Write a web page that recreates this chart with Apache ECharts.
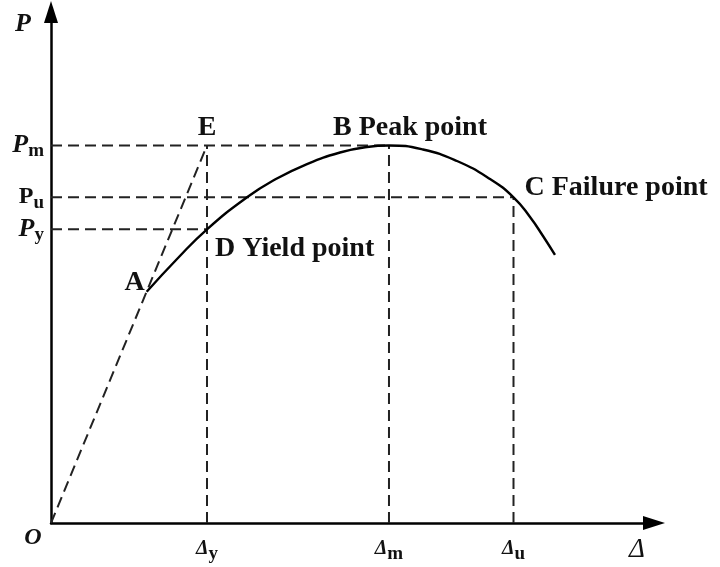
<!DOCTYPE html>
<html>
<head>
<meta charset="utf-8">
<script src="https://cdn.jsdelivr.net/npm/echarts@6/dist/echarts.min.js"></script>
<style>html,body{margin:0;padding:0;background:#fff;}#c{width:720px;height:567px;}</style>
</head>
<body>
<div id="c"></div>
<script>
// Load–displacement skeleton curve (arbitrary units, axes 0..100)
const curveX = [15.87, 20.90, 25.87, 32.50, 37.15, 42.45, 47.93, 52.40, 56.05, 61.69, 67.33, 72.80, 76.70, 79.44, 81.59, 83.58];
const curveY = [45.26, 51.66, 57.48, 63.74, 67.22, 70.25, 72.50, 73.58, 73.87, 73.09, 70.84, 67.32, 63.74, 59.88, 56.16, 52.45];

// characteristic displacements (x) and loads (y)
const xTickValues = [25.87, 56.05, 76.70];      // Δy, Δm, Δu
const xTickSubs   = ['y', 'm', 'u'];
const yTickValues = [73.87, 63.74, 57.48];      // Pm, Pu, Py
const yTickSubs   = ['m', 'u', 'y'];

// labelled points
const pointNames = ['A', 'E', 'B Peak point', 'C Failure point', 'D Yield point', 'O', 'Δ'];
const pointX = [15.87, 25.87, 56.05, 76.70, 25.87, 0, 100];
const pointY = [45.26, 73.87, 73.87, 63.74, 57.48, 0, 0];

const SERIF = "'Liberation Serif','Times New Roman',serif";
const dashStyle = { color: '#222', width: 2, type: [11, 6] };

function dashed(a, b) {
  return { type: 'line', data: [a, b], symbol: 'none', silent: true,
           lineStyle: dashStyle, z: 2, animation: false };
}

const [Dy, Dm, Du] = xTickValues;
const [Pm, Pu, Py] = yTickValues;

const labelLayouts = [
  { offset: [-12, -9], align: 'center' },   // A
  { offset: [0, -18], align: 'center' },    // E
  { offset: [-56, -18], align: 'left' },    // B
  { offset: [11, -10], align: 'left' },     // C
  { offset: [8, 19], align: 'left' },       // D
  { offset: [-18, 15], align: 'center', fontStyle: 'italic', fontSize: 24 },                   // O
  { offset: [-17, 27], align: 'center', fontStyle: 'italic', fontWeight: 'normal', fontSize: 27 } // Δ axis title
];

const labelData = pointNames.map((n, i) => ({
  value: [pointX[i], pointY[i]],
  label: {
    show: true, formatter: n, position: 'inside',
    offset: labelLayouts[i].offset, align: labelLayouts[i].align, verticalAlign: 'middle',
    fontFamily: SERIF, fontWeight: labelLayouts[i].fontWeight || 'bold', fontSize: labelLayouts[i].fontSize || 28,
    fontStyle: labelLayouts[i].fontStyle || 'normal', color: '#111', opacity: 1, textBorderWidth: 0
  }
}));

const chart = echarts.init(document.getElementById('c'), null, { renderer: 'canvas' });
chart.setOption({
  animation: false,
  backgroundColor: '#fff',
  grid: { left: 51, right: 66, top: 12, bottom: 44, containLabel: false, outerBoundsMode: 'none' },
  xAxis: {
    type: 'value', min: 0, max: 100,
    axisLine: { show: true, onZero: false, symbol: ['none', 'triangle'], symbolSize: [14, 22],
                lineStyle: { color: '#000', width: 2.5 } },
    axisTick: { show: false },
    splitLine: { show: false },
    axisLabel: {
      customValues: xTickValues, margin: 11, color: '#111',
      formatter: function (v) {
        let k = 0, best = 1e9;
        xTickValues.forEach((t, i) => { if (Math.abs(t - v) < best) { best = Math.abs(t - v); k = i; } });
        return '{d|Δ}{s|' + xTickSubs[k] + '}';
      },
      rich: {
        d: { fontFamily: SERIF, fontStyle: 'italic', fontWeight: 'bold', fontSize: 20, lineHeight: 30, color: '#111' },
        s: { fontFamily: SERIF, fontWeight: 'bold', fontSize: 19, lineHeight: 19, verticalAlign: 'bottom', color: '#111' }
      }
    }
  },
  yAxis: {
    type: 'value', min: 0, max: 100,
    name: 'P', nameLocation: 'end', nameGap: -12,
    nameTextStyle: { fontFamily: SERIF, fontStyle: 'italic', fontWeight: 'bold', fontSize: 26, color: '#111',
                     align: 'center', verticalAlign: 'middle', padding: [0, 56, 0, 0] },
    axisLine: { show: true, onZero: false, symbol: ['none', 'triangle'], symbolSize: [14, 22],
                lineStyle: { color: '#000', width: 2.5 } },
    axisTick: { show: false },
    splitLine: { show: false },
    axisLabel: {
      customValues: yTickValues, margin: 7, color: '#111',
      formatter: function (v) {
        let k = 0, best = 1e9;
        yTickValues.forEach((t, i) => { if (Math.abs(t - v) < best) { best = Math.abs(t - v); k = i; } });
        const pStyle = k === 1 ? 'pu' : 'p';
        return '{' + pStyle + '|P}{s|' + yTickSubs[k] + '}';
      },
      rich: {
        p:  { fontFamily: SERIF, fontStyle: 'italic', fontWeight: 'bold', fontSize: 26, lineHeight: 30, color: '#111' },
        pu: { fontFamily: SERIF, fontWeight: 'bold', fontSize: 24, lineHeight: 30, color: '#111' },
        s:  { fontFamily: SERIF, fontWeight: 'bold', fontSize: 19, lineHeight: 19, verticalAlign: 'bottom', color: '#111' }
      }
    }
  },
  series: [
    dashed([0, 0], [Dy, Pm]),          // O–A–E secant line
    dashed([0, Pm], [Dm, Pm]),
    dashed([0, Pu], [Du, Pu]),
    dashed([0, Py], [Dy, Py]),
    dashed([Dy, 0], [Dy, Pm]),
    dashed([Dm, 0], [Dm, Pm]),
    dashed([Du, 0], [Du, Pu]),
    {
      type: 'line', smooth: 0.5, symbol: 'none', silent: true, z: 3,
      data: curveX.map((x, i) => [x, curveY[i]]),
      lineStyle: { color: '#000', width: 2.4 }
    },
    {
      type: 'scatter', symbolSize: 0, silent: true, z: 5,
      itemStyle: { opacity: 1 },
      data: labelData
    }
  ]
});
</script>
</body>
</html>
